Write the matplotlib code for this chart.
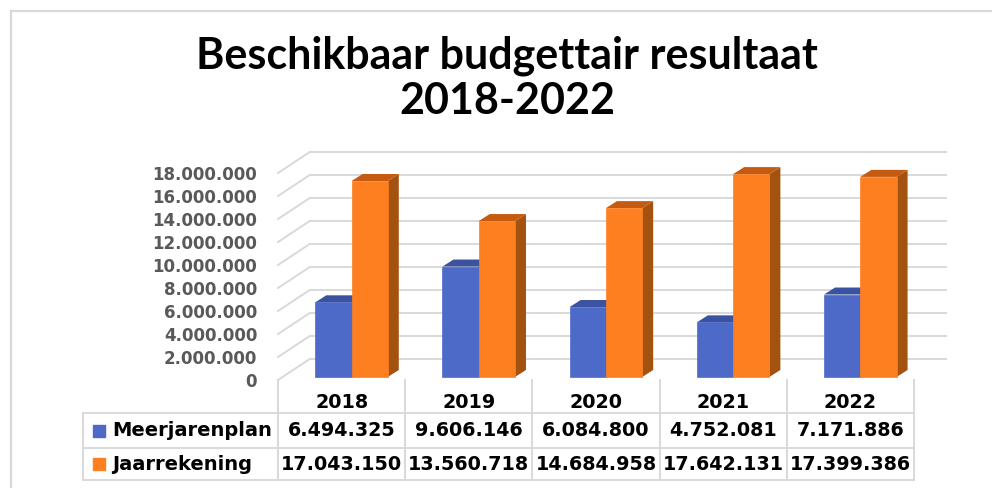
import matplotlib
matplotlib.use("Agg")
import matplotlib.pyplot as plt
from matplotlib.patches import Polygon
from matplotlib.lines import Line2D

# ---- data ----
years = ["2018", "2019", "2020", "2021", "2022"]
meerjarenplan = [6494325, 9606146, 6084800, 4752081, 7171886]
jaarrekening = [17043150, 13560718, 14684958, 17642131, 17399386]
series_names = ["Meerjarenplan", "Jaarrekening"]
yticks = [0, 2000000, 4000000, 6000000, 8000000, 10000000, 12000000,
          14000000, 16000000, 18000000]
title_lines = ["Beschikbaar budgettair resultaat", "2018-2022"]

# ---- style ----
W_PX, H_PX = 992, 488
blue_front, blue_top, blue_side = "#4E6AC8", "#3A52A0", "#34488C"
orange_front, orange_top, orange_side = "#FD7F20", "#C55A11", "#A3520F"
grid_c = "#D9D9D9"
fmt = lambda v: f"{v:,}".replace(",", ".")

fig = plt.figure(figsize=(W_PX / 100, H_PX / 100), dpi=100)
fig.patch.set_facecolor("white")

# front plane of the plot in pixel coords
x0, x1, yb, yt = 278, 914, 380, 173
ax = fig.add_axes([x0 / W_PX, (H_PX - yb) / H_PX, (x1 - x0) / W_PX, (yb - yt) / H_PX])
ax.set_xlim(-0.5, len(years) - 0.5)
ax.set_ylim(0, 18000000)
for s in ax.spines.values():
    s.set_visible(False)
ax.set_facecolor("none")
ax.set_xticks([])
ax.set_yticks(yticks)
ax.set_yticklabels([fmt(v) for v in yticks], fontsize=12, fontweight="bold",
                   color="#595959", family="DejaVu Sans")
ax.tick_params(axis="y", length=0, pad=15)

# 3D depth offsets (data units)
DX, DY = 0.25, 1.83e6
# back wall gridlines + left wall slants
for v in yticks:
    ax.add_line(Line2D([-0.5 + DX, len(years) - 0.5 + DX], [v + DY, v + DY],
                       color=grid_c, lw=1.4, clip_on=False, zorder=1))
    ax.add_line(Line2D([-0.5, -0.5 + DX], [v, v + DY],
                       color=grid_c, lw=1.4, clip_on=False, zorder=1))

# bars
W, GO, BOFF = 0.285, 0.078, 0.26e6
bdx, bdy = 0.0865, 0.61e6
for i in range(len(years)):
    for k, (vals, fc, tc, sc) in enumerate([
            (meerjarenplan, blue_front, blue_top, blue_side),
            (jaarrekening, orange_front, orange_top, orange_side)]):
        xl = i + GO - W + k * W
        xr = xl + W
        v = vals[i]
        top = BOFF + v
        ax.add_patch(Polygon([(xr, BOFF), (xr + bdx, BOFF + bdy), (xr + bdx, top + bdy), (xr, top)],
                             closed=True, fc=sc, ec="none", zorder=3 + 2 * k, clip_on=False))
        ax.add_patch(Polygon([(xl, top), (xl + bdx, top + bdy), (xr + bdx, top + bdy), (xr, top)],
                             closed=True, fc=tc, ec="none", zorder=3 + 2 * k, clip_on=False))
        ax.bar(xl, v, bottom=BOFF, width=W, align="edge", color=fc, zorder=4 + 2 * k,
               clip_on=False, edgecolor=fc, lw=0.5)

# ---- data table ----
def yf(px):
    return (yb - px) / (yb - yt)

tl_x = (83 - x0) / ((x1 - x0) / len(years)) - 0.5
row_lines = [yf(413), yf(448), yf(480)]
kw = dict(color=grid_c, lw=1.4, clip_on=False, zorder=1)
for yy in row_lines:
    ax.add_line(Line2D([tl_x, len(years) - 0.5], [yy * 18e6] * 2, **kw))
ax.add_line(Line2D([tl_x, tl_x], [row_lines[0] * 18e6, row_lines[-1] * 18e6], **kw))
for j in range(len(years) + 1):
    ax.add_line(Line2D([j - 0.5, j - 0.5], [0, row_lines[-1] * 18e6], **kw))

tkw = dict(fontsize=13.8, fontweight="bold", color="black", family="DejaVu Sans",
           ha="center", va="center", clip_on=False)
for i, y in enumerate(years):
    ax.text(i, yf(402) * 18e6, y, **tkw)
for r, (vals, col, name) in enumerate([(meerjarenplan, blue_front, series_names[0]),
                                        (jaarrekening, orange_front, series_names[1])]):
    ycen = [yf(431), yf(464)][r] * 18e6
    for i, v in enumerate(vals):
        ax.text(i, ycen, fmt(v), **tkw)
    sq_x = (98.5 - x0) / ((x1 - x0) / len(years)) - 0.5
    txt_x = (112 - x0) / ((x1 - x0) / len(years)) - 0.5
    ax.plot([sq_x], [ycen], marker="s", ms=9.2, color=col, mec=col, clip_on=False, zorder=5)
    ax.text(txt_x, ycen, name, fontsize=14, fontweight="bold", color="black",
            family="DejaVu Sans", ha="left", va="center", clip_on=False)

# ---- title ----
fig.text(507 / W_PX, 1 - 68 / H_PX, title_lines[0], ha="center", va="baseline",
         fontsize=31, fontweight="bold", family="Lato", color="black")
fig.text(507 / W_PX, 1 - 114 / H_PX, title_lines[1], ha="center", va="baseline",
         fontsize=31, fontweight="bold", family="Lato", color="black")

# ---- outer frame (left and top) ----
fig.add_artist(Line2D([11 / W_PX, 11 / W_PX], [0, 1 - 11 / H_PX], color=grid_c, lw=1.6,
                      transform=fig.transFigure))
fig.add_artist(Line2D([11 / W_PX, 1], [1 - 11 / H_PX, 1 - 11 / H_PX], color=grid_c, lw=1.6,
                      transform=fig.transFigure))

fig.savefig("out.png", dpi=100)
